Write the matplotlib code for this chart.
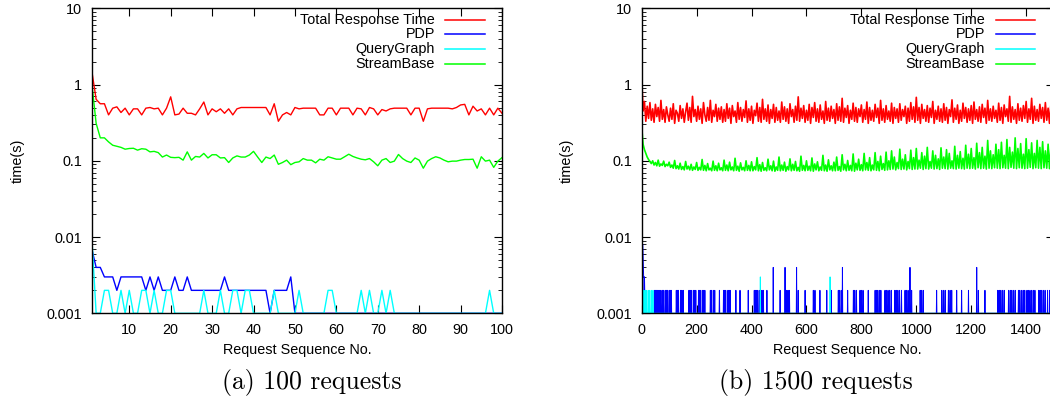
import matplotlib
matplotlib.use("Agg")
import matplotlib.pyplot as plt
import numpy as np
from matplotlib.ticker import LogLocator, NullFormatter

plt.rcParams['font.family'] = ['Liberation Sans', 'DejaVu Sans']
plt.rcParams['font.size'] = 10.4

# ---------------- (a) 100 requests ----------------
seq_a = np.arange(1, 101)

total_a = [1.45, 0.64, 0.56, 0.56, 0.40, 0.49, 0.51, 0.43, 0.49, 0.40,
           0.48, 0.48, 0.40, 0.49, 0.50, 0.48, 0.49, 0.40, 0.49, 0.69,
           0.40, 0.41, 0.49, 0.42, 0.42, 0.40, 0.48, 0.59, 0.40, 0.48,
           0.44, 0.48, 0.42, 0.48, 0.40, 0.48, 0.50, 0.50, 0.50, 0.50,
           0.50, 0.50, 0.50, 0.40, 0.56, 0.33, 0.40, 0.43, 0.40, 0.50,
           0.48, 0.49, 0.49, 0.49, 0.49, 0.40, 0.40, 0.49, 0.49, 0.40,
           0.49, 0.49, 0.49, 0.40, 0.49, 0.48, 0.40, 0.50, 0.48, 0.40,
           0.47, 0.45, 0.48, 0.49, 0.49, 0.49, 0.49, 0.40, 0.49, 0.49,
           0.33, 0.48, 0.49, 0.49, 0.49, 0.49, 0.49, 0.48, 0.50, 0.54,
           0.55, 0.40, 0.52, 0.45, 0.48, 0.40, 0.49, 0.40, 0.49, 0.42]

streambase_a = [0.98, 0.31, 0.20, 0.20, 0.177, 0.16, 0.155, 0.15, 0.142, 0.145,
                0.146, 0.138, 0.144, 0.142, 0.131, 0.133, 0.128, 0.112, 0.119, 0.111,
                0.110, 0.111, 0.102, 0.131, 0.102, 0.114, 0.112, 0.125, 0.109, 0.12,
                0.12, 0.109, 0.11, 0.095, 0.109, 0.116, 0.112, 0.112, 0.119, 0.133,
                0.112, 0.095, 0.112, 0.107, 0.119, 0.09, 0.095, 0.102, 0.089, 0.095,
                0.097, 0.107, 0.102, 0.102, 0.094, 0.105, 0.102, 0.113, 0.109, 0.105,
                0.105, 0.113, 0.122, 0.114, 0.109, 0.105, 0.103, 0.107, 0.097, 0.086,
                0.102, 0.107, 0.095, 0.099, 0.121, 0.107, 0.099, 0.095, 0.109, 0.102,
                0.08, 0.099, 0.107, 0.113, 0.109, 0.102, 0.097, 0.099, 0.099, 0.102,
                0.104, 0.104, 0.105, 0.08, 0.113, 0.099, 0.102, 0.082, 0.099, 0.11]

pdp_a = [0.0068, 0.004, 0.004, 0.003, 0.003, 0.003, 0.002, 0.003, 0.003, 0.003,
         0.003, 0.003, 0.003, 0.002, 0.003, 0.002, 0.003, 0.002, 0.002, 0.002,
         0.003, 0.002, 0.002, 0.003, 0.002, 0.002, 0.002, 0.002, 0.002, 0.002,
         0.002, 0.002, 0.003, 0.002, 0.002, 0.002, 0.002, 0.002, 0.002, 0.002,
         0.002, 0.002, 0.002, 0.001, 0.002, 0.002, 0.002, 0.002, 0.003, 0.001,
         0.001, 0.001, 0.001, 0.001, 0.001, 0.001, 0.001, 0.001, 0.001, 0.001,
         0.001, 0.001, 0.001, 0.001, 0.001, 0.001, 0.001, 0.001, 0.001, 0.001,
         0.001, 0.001, 0.001, 0.001, 0.001, 0.001, 0.001, 0.001, 0.001, 0.001,
         0.001, 0.001, 0.001, 0.001, 0.001, 0.001, 0.001, 0.001, 0.001, 0.001,
         0.001, 0.001, 0.001, 0.001, 0.001, 0.001, 0.001, 0.001, 0.001, 0.001]

querygraph_a = [0.009, 0.001, 0.001, 0.002, 0.002, 0.001, 0.001, 0.002, 0.001, 0.002,
                0.001, 0.001, 0.002, 0.002, 0.001, 0.002, 0.001, 0.001, 0.002, 0.002,
                0.001, 0.001, 0.001, 0.001, 0.001, 0.001, 0.001, 0.002, 0.001, 0.001,
                0.001, 0.002, 0.001, 0.001, 0.002, 0.002, 0.001, 0.002, 0.002, 0.001,
                0.001, 0.001, 0.001, 0.001, 0.002, 0.001, 0.001, 0.001, 0.001, 0.001,
                0.002, 0.001, 0.001, 0.001, 0.001, 0.001, 0.001, 0.002, 0.002, 0.001,
                0.001, 0.001, 0.001, 0.001, 0.001, 0.002, 0.001, 0.002, 0.001, 0.001,
                0.002, 0.001, 0.002, 0.001, 0.001, 0.001, 0.001, 0.001, 0.001, 0.001,
                0.001, 0.001, 0.001, 0.001, 0.001, 0.001, 0.001, 0.001, 0.001, 0.001,
                0.001, 0.001, 0.001, 0.001, 0.001, 0.001, 0.002, 0.001, 0.001, 0.001]

# ---------------- (b) 1500 requests ----------------
# total / streambase read every 5th request
seq_b_coarse = np.arange(0, 1500, 5)

total_b_cs = [125, 45, 60, 33, 52, 36, 58, 34, 48, 32, 55, 38, 50, 33, 62, 35, 47, 32, 51, 40,
              33, 49, 35, 56, 31, 46, 42, 33, 53, 36, 48, 32, 44, 57, 34, 50, 32, 70, 38, 47,
              33, 52, 35, 48, 31, 58, 40, 33, 50, 34, 62, 32, 46, 38, 55, 33, 49, 35, 51, 32,
              47, 33, 56, 36, 49, 31, 53, 38, 45, 32, 58, 35, 50, 33, 47, 37, 61, 32, 48, 34,
              52, 31, 46, 39, 57, 33, 50, 32, 64, 35, 48, 33, 54, 31, 47, 36, 55, 32, 50, 34,
              45, 32, 59, 35, 51, 33, 48, 31, 56, 38, 47, 32, 52, 34, 69, 33, 49, 36, 53, 32,
              46, 34, 55, 31, 50, 37, 58, 33, 48, 32, 54, 35, 45, 31, 60, 34, 49, 33, 52, 36,
              47, 31, 56, 34, 51, 33, 66, 32, 49, 37, 53, 31, 46, 35, 57, 33, 50, 32, 48, 38,
              54, 32, 47, 35, 59, 31, 50, 34, 46, 33, 55, 37, 49, 31, 62, 34, 48, 32, 53, 35,
              45, 33, 57, 31, 50, 36, 48, 32, 56, 34, 47, 38, 52, 31, 49, 33, 58, 35, 51, 32,
              68, 34, 50, 31, 55, 36, 47, 33, 53, 32, 49, 37, 60, 31, 46, 35, 52, 33, 48, 32,
              56, 34, 50, 31, 47, 38, 63, 32, 49, 35, 54, 31, 46, 33, 57, 36, 50, 32, 48, 34,
              53, 31, 59, 35, 47, 33, 51, 32, 55, 37, 49, 31, 62, 34, 48, 33, 52, 36, 46, 32,
              57, 34, 50, 31, 54, 38, 48, 33, 70, 32, 51, 35, 47, 31, 56, 34, 49, 33, 53, 36,
              60, 32, 48, 35, 66, 31, 52, 34, 47, 33, 55, 36, 50, 32, 58, 34, 49, 31, 54, 35]

streambase_b_ms = [280, 165, 140, 125, 112, 104, 98, 92, 100, 88, 95, 86, 102, 85, 91, 87, 99, 84, 90, 86,
                   96, 82, 88, 80, 101, 79, 86, 78, 93, 77, 84, 76, 98, 78, 85, 76, 90, 75, 83, 77,
                   95, 75, 82, 76, 104, 75, 87, 74, 92, 76, 80, 74, 99, 75, 86, 74, 93, 76, 81, 74,
                   102, 75, 88, 74, 96, 76, 83, 74, 108, 75, 85, 73, 94, 76, 82, 74, 100, 75, 87, 74,
                   97, 74, 84, 76, 110, 74, 89, 73, 95, 75, 81, 74, 105, 76, 86, 74, 99, 73, 83, 75,
                   112, 74, 88, 75, 96, 73, 84, 76, 106, 74, 90, 75, 98, 74, 82, 73, 115, 75, 87, 74,
                   100, 75, 85, 74, 109, 73, 91, 76, 97, 74, 83, 75, 118, 74, 88, 73, 103, 76, 86, 74,
                   96, 74, 112, 75, 84, 73, 120, 76, 90, 74, 101, 75, 87, 74, 123, 73, 93, 76, 105, 75,
                   89, 74, 125, 76, 95, 75, 110, 74, 88, 76, 128, 75, 98, 74, 115, 77, 92, 75, 130, 76,
                   100, 77, 135, 78, 112, 76, 95, 79, 142, 77, 105, 78, 120, 76, 98, 79, 138, 77, 110, 78,
                   145, 78, 102, 80, 128, 77, 115, 79, 150, 78, 98, 80, 135, 78, 118, 79, 106, 77, 148, 80,
                   112, 79, 140, 78, 125, 80, 100, 79, 155, 78, 118, 80, 132, 79, 108, 78, 160, 80, 122, 79,
                   145, 80, 110, 78, 170, 81, 128, 79, 150, 80, 115, 78, 185, 80, 135, 79, 120, 81, 165, 80,
                   140, 79, 175, 81, 118, 80, 190, 79, 150, 82, 130, 80, 200, 79, 145, 81, 168, 80, 122, 79,
                   195, 80, 140, 82, 172, 79, 125, 81, 185, 80, 150, 79, 178, 81, 135, 80, 165, 79, 145, 81]

# PDP / QueryGraph sit at 1 ms except where listed
n_b = 1500
pdp_b_head = [0.015, 0.011, 0.009, 0.008, 0.008, 0.006, 0.004, 0.003, 0.003, 0.002, 0.003, 0.002]
pdp_b_2ms = [46, 49, 52, 55, 58, 62, 65, 68, 74, 77, 80, 86, 89, 92, 95, 101, 104, 108,
             126, 130, 134, 142, 146, 151, 172, 176, 180, 188, 192, 197, 207, 211, 215, 222,
             226, 230, 250, 255, 262, 266, 283, 298, 302, 306, 314, 318, 322, 343, 358, 388,
             410, 414, 418, 422, 428, 434, 438, 443, 456, 504, 528, 533, 538, 570, 595, 625,
             631, 649, 674, 690, 716, 721, 727, 750, 771, 776, 782, 795, 800, 806, 825, 850,
             855, 860, 866, 871, 886, 891, 897, 903, 909, 922, 927, 933, 939, 946, 959, 964,
             970, 983, 1014, 1019, 1025, 1074, 1093, 1099, 1105, 1117, 1123, 1129, 1147,
             1165, 1190, 1226, 1250, 1297, 1302, 1308, 1314, 1320, 1336, 1342, 1348, 1354,
             1360, 1372, 1377, 1383, 1389, 1395, 1403, 1408, 1414, 1420, 1426, 1432, 1446,
             1451, 1457, 1463, 1469, 1478, 1486, 1494]
pdp_b_4ms = [479, 522, 564, 731, 977, 1220]
qg_b_head = [0.006, 0.002]
qg_b_2ms = [4, 8, 13, 18, 24, 29, 35, 41]
qg_b_3ms = [432, 686]

series_names = ["Total Response Time", "PDP", "QueryGraph", "StreamBase"]
series_colors = ["#ff0000", "#0000ff", "#00ffff", "#00ff00"]

# build full-resolution arrays for (b)
seq_b = np.arange(n_b)
pdp_b = np.full(n_b, 0.001)
pdp_b[:len(pdp_b_head)] = pdp_b_head
pdp_b[pdp_b_2ms] = 0.002
pdp_b[pdp_b_4ms] = 0.004
qg_b = np.full(n_b, 0.001)
qg_b[:len(qg_b_head)] = qg_b_head
qg_b[qg_b_2ms] = 0.002
qg_b[qg_b_3ms] = 0.003
total_b = np.array(total_b_cs) / 100.0
streambase_b = np.array(streambase_b_ms) / 1000.0

W, H = 1050, 401
fig = plt.figure(figsize=(W / 100, H / 100), dpi=100)
ax_a = fig.add_axes([92 / W, (H - 313.3) / H, 410 / W, 305 / H])
ax_b = fig.add_axes([641.7 / W, (H - 313.3) / H, 411.9 / W, 305 / H])


def style_axes(ax):
    ax.set_yscale('log')
    ax.set_ylim(0.001, 10)
    ax.set_yticks([0.001, 0.01, 0.1, 1, 10])
    ax.set_yticklabels(["0.001", "0.01", "0.1", "1", "10"])
    ax.yaxis.set_minor_locator(LogLocator(base=10, subs=np.arange(2, 10)))
    ax.yaxis.set_minor_formatter(NullFormatter())
    ax.tick_params(which='both', direction='in', top=True, right=True, pad=7)
    ax.tick_params(which='major', length=6, width=0.8)
    ax.tick_params(which='minor', length=3, width=0.6)
    ax.tick_params(axis='x', which='minor', length=0)
    for sp in ax.spines.values():
        sp.set_linewidth(1.0)
        sp.set_zorder(5)
    ax.set_xlabel("Request Sequence No.", labelpad=4)
    ax.set_ylabel("time(s)", labelpad=16)


def draw_key(ax, text_x, line_x0, line_x1):
    rows = [0.9616, 0.9149, 0.8657, 0.8177]
    for name, col, ry in zip(series_names, series_colors, rows):
        ax.text(text_x, ry, name, transform=ax.transAxes, ha='right', va='center')
        ax.plot([line_x0, line_x1], [ry, ry], color=col, lw=1.1, transform=ax.transAxes)


# panel (a)
ax_a.plot(seq_a, total_a, color=series_colors[0], lw=1.0)
ax_a.plot(seq_a, pdp_a, color=series_colors[1], lw=1.0)
ax_a.plot(seq_a, querygraph_a, color=series_colors[2], lw=1.0)
ax_a.plot(seq_a, streambase_a, color=series_colors[3], lw=1.0)
ax_a.set_xlim(1, 100)
ax_a.set_xticks(np.arange(10, 101, 10))
style_axes(ax_a)
draw_key(ax_a, 0.8366, 0.861, 0.9585)

# panel (b)
ax_b.plot(seq_b_coarse, total_b, color=series_colors[0], lw=1.2)
ax_b.plot(seq_b, pdp_b, color=series_colors[1], lw=0.7)
ax_b.plot(seq_b, qg_b, color=series_colors[2], lw=0.7)
ax_b.plot(seq_b_coarse, streambase_b, color=series_colors[3], lw=1.2)
ax_b.set_xlim(0, 1500)
ax_b.set_xticks(np.arange(0, 1401, 200))
style_axes(ax_b)
draw_key(ax_b, 0.8335, 0.8594, 0.9548)

# sub-captions
fig.text(312 / W, 1 - 383 / H, "(a) 100 requests", family='cmr10', fontsize=18.5,
         ha='center', va='center')
fig.text(816 / W, 1 - 383 / H, "(b) 1500 requests", family='cmr10', fontsize=18.5,
         ha='center', va='center')

fig.savefig("out.png", dpi=100)
